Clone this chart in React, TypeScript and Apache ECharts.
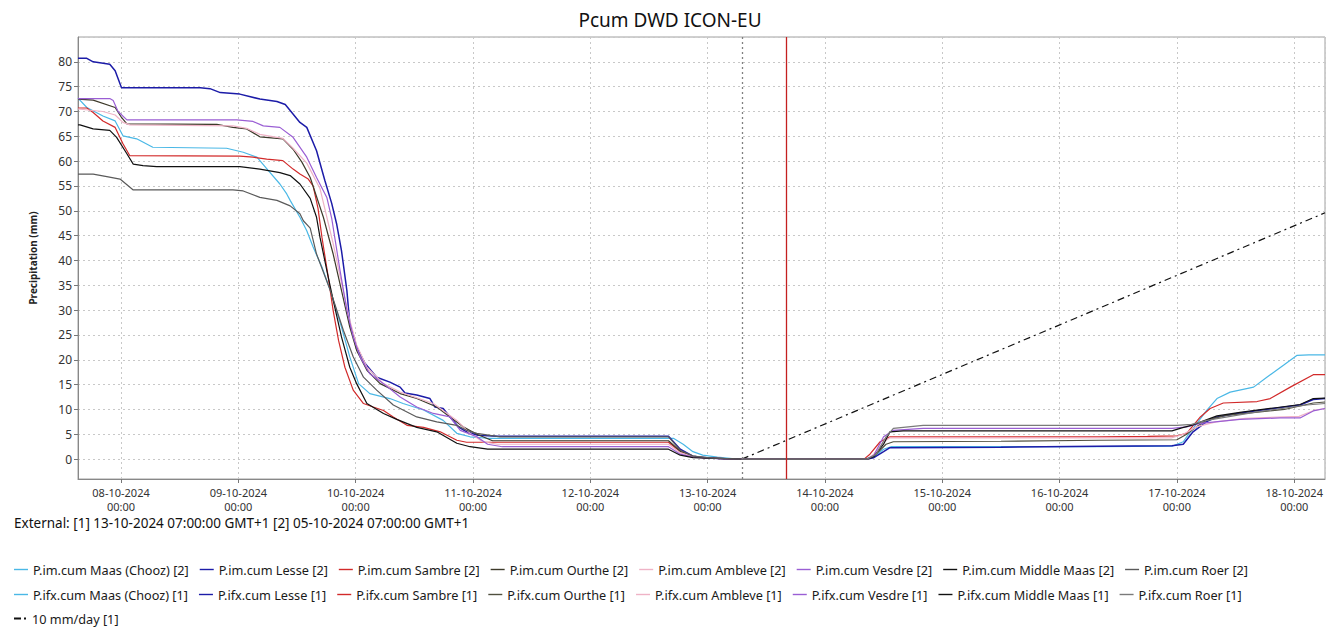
import React, { useEffect, useRef } from 'react';
import * as echarts from 'echarts';

// Time reference: hours counted from 08-10-2024 00:00 (local)
const BASE = new Date(2024, 9, 8, 0, 0, 0).getTime();
const HOUR = 3600000;
const AXIS_MIN_H = -8.8;
const AXIS_MAX_H = 246.3;
const FORECAST_T0_H = 127; // 13-10-2024 07:00
const NOW_H = 136; // 13-10-2024 16:00

const stations = ['Maas (Chooz)', 'Lesse', 'Sambre', 'Ourthe', 'Ambleve', 'Vesdre', 'Middle Maas', 'Roer'];
const imColors = ['#4ab8e6', '#1c1ca8', '#d22a2a', '#3d3a2a', '#efb3c6', '#9a5ed4', '#111111', '#5a5a5a'];
const ifxColors = ['#4ab8e6', '#1c1ca8', '#d22a2a', '#50503f', '#efb3c6', '#9a5ed4', '#111111', '#7a7a7a'];

// P.im.cum [2] : [hour, mm]
const imMaas = [[-8.8, 72.7], [-7, 70.8], [-3.7, 69.1], [-1.2, 68.1], [0.4, 65.1], [3.2, 64.5], [6.5, 62.8], [21.6, 62.6], [25, 61.8], [27.8, 60.8], [29.8, 58.5], [32.5, 55.4], [33.9, 53.4], [34.6, 52.1], [36.6, 48.7], [38, 46.0], [39.3, 42.7], [41.1, 38.7], [42.8, 34.0], [45.1, 26.6], [46.8, 20.6], [48.6, 15.2], [50.9, 13.2], [55, 12.2], [57.7, 11.2], [61.9, 9.9], [65.9, 7.8], [68.7, 5.2], [71.4, 4.5], [75, 4.2], [113, 4.2], [115, 3.0], [117, 1.5], [119, 0.8], [122, 0.4], [125, 0.1], [127, 0]];
const imLesse = [[-8.8, 80.7], [-7, 80.7], [-5.7, 80.0], [-2.3, 79.5], [-1.2, 78.2], [0.1, 74.8], [16.2, 74.8], [18.2, 74.6], [20.3, 73.8], [24.3, 73.5], [28.4, 72.5], [31.9, 72.0], [33.6, 71.4], [36.6, 67.8], [38, 66.8], [40, 62.1], [41.7, 56.1], [43.1, 51.5], [44.1, 47.4], [45.1, 42.0], [46.2, 34.0], [46.8, 27.3], [48.2, 22.6], [49.9, 19.3], [52.3, 16.5], [55, 15.5], [57.1, 14.5], [58.1, 13.3], [60.5, 12.9], [63.2, 12.2], [64.2, 10.5], [65.9, 10.2], [67.3, 8.5], [69, 6.5], [70.7, 5.5], [73, 4.8], [77, 4.6], [112, 4.6], [114.4, 2.0], [117, 0.6], [119.8, 0.3], [123.9, 0.05], [127, 0]];
const imSambre = [[-8.8, 70.7], [-7, 70.7], [-5.7, 69.8], [-3.7, 68.1], [-1.2, 66.8], [0.4, 63.5], [1.8, 61.1], [24.3, 61.0], [27, 60.8], [29.8, 60.4], [33.1, 60.1], [35.2, 58.4], [36.6, 57.4], [38.3, 56.4], [39.3, 55.0], [40.3, 50.5], [41.1, 44.7], [42.4, 36.6], [43.4, 29.9], [44.5, 23.9], [45.8, 18.5], [47.5, 13.9], [49.6, 11.2], [51.6, 10.5], [53.7, 9.8], [55.7, 8.5], [58.5, 6.8], [61.9, 6.4], [65.3, 5.5], [68.7, 3.8], [70.7, 3.4], [112, 3.4], [114.4, 1.5], [117, 0.5], [120, 0.2], [127, 0]];
const imOurthe = [[-8.8, 72.5], [-5.7, 72.3], [-1.2, 70.8], [0.1, 68.8], [1.2, 67.5], [19.6, 67.4], [22.9, 66.8], [25.7, 66.5], [28.4, 64.9], [33.1, 64.5], [35.2, 62.4], [37, 59.8], [38.7, 56.7], [41.4, 48.7], [43.4, 41.3], [45.1, 34.0], [46.8, 26.6], [48.2, 21.9], [50.3, 17.9], [53, 15.2], [57.1, 13.2], [60.5, 12.2], [64.6, 10.5], [67.3, 8.5], [70, 6.5], [72.8, 5.0], [76, 3.7], [112, 3.7], [114.4, 1.6], [117, 0.6], [120, 0.2], [127, 0]];
const imAmbleve = [[-8.8, 70.5], [-3.7, 70.0], [-1.2, 69.3], [0.4, 67.8], [1.8, 67.3], [22.9, 67.1], [25.7, 66.6], [28.4, 65.4], [33.1, 64.6], [35.2, 62.6], [38, 59.6], [40.7, 54.5], [42.4, 47.5], [43.4, 43.4], [45.1, 35.5], [46.8, 28.0], [48.2, 23.0], [50.3, 18.5], [53.7, 15.2], [57.1, 13.5], [63.9, 11.2], [68.7, 7.8], [71.4, 5.2], [74, 3.5], [77, 3.0], [112, 3.0], [114.4, 1.3], [117, 0.5], [121, 0.2], [127, 0]];
const imVesdre = [[-8.8, 72.6], [-2.3, 72.6], [-1.6, 72.2], [-0.6, 70.0], [1.2, 68.3], [23.7, 68.3], [27, 68.0], [29.1, 67.1], [32.5, 66.8], [35.2, 64.8], [38, 60.8], [40, 56.7], [42.1, 52.7], [43.1, 48.5], [44.8, 38.0], [46.2, 30.0], [47.5, 24.6], [48.9, 20.6], [50.9, 17.2], [53.7, 15.2], [57.1, 12.5], [60.5, 10.5], [63.9, 9.2], [67.3, 8.5], [69.4, 5.8], [72.8, 4.5], [75, 3.0], [78, 2.5], [112, 2.5], [114.4, 1.0], [117, 0.4], [121, 0.15], [127, 0]];
const imMiddleMaas = [[-8.8, 67.3], [-8.4, 67.3], [-5.7, 66.5], [-2.3, 66.2], [-0.9, 64.8], [1.2, 61.5], [2.5, 59.4], [4.5, 59.1], [7.3, 58.9], [24.3, 58.9], [28.4, 58.4], [32.5, 57.7], [34.6, 57.1], [36.6, 55.4], [38.7, 52.5], [40, 48.7], [40.7, 44.7], [42.1, 38.0], [43.4, 32.0], [45.1, 24.6], [46.8, 18.5], [48.2, 15.2], [50.3, 11.2], [53.7, 9.2], [56.4, 8.0], [60.5, 6.4], [64.6, 5.5], [68.7, 3.2], [71.4, 2.5], [75, 2.0], [112, 2.0], [114.4, 0.8], [117, 0.3], [127, 0]];
const imRoer = [[-8.8, 57.4], [-5.7, 57.4], [-2.9, 56.9], [-0.2, 56.4], [2.5, 54.2], [22.9, 54.2], [25, 54.0], [28.4, 52.7], [31.9, 52.1], [34.6, 51.0], [36.6, 49.4], [37.3, 48.0], [38.7, 46.5], [40, 41.3], [42.8, 34.0], [45.5, 25.9], [47.5, 20.6], [49.6, 16.5], [52.3, 13.9], [55.7, 10.9], [60.5, 8.5], [64.6, 7.5], [68.7, 6.8], [70.7, 5.8], [72.8, 5.2], [77.5, 4.5], [112, 4.5], [114.4, 1.8], [117, 0.6], [121, 0.2], [127, 0]];

// P.ifx.cum [1] : [hour, mm]
const ifxMaas = [[127, 0], [152, 0], [154, 0.5], [156, 2.0], [157.5, 2.5], [200, 2.5], [215, 2.6], [217.3, 3.5], [218, 4.5], [222.1, 9.8], [224.2, 12.2], [226.9, 13.5], [231.7, 14.5], [234.4, 16.5], [237.8, 18.9], [240.6, 20.9], [243, 21.0], [246.3, 21.0]];
const ifxLesse = [[127, 0], [152.6, 0], [154, 0.3], [156, 1.5], [157.3, 2.3], [180, 2.4], [200, 2.6], [215, 2.7], [217.3, 3.0], [219.3, 5.5], [222, 7.5], [224.2, 8.5], [228.9, 9.3], [235.8, 10.2], [241.2, 10.9], [243.9, 12.0], [246.3, 12.2]];
const ifxSambre = [[127, 0], [152, 0], [153.2, 1.0], [155.3, 3.5], [157.3, 4.5], [200, 4.5], [210, 4.6], [216, 4.7], [218, 5.2], [220.8, 8.5], [222.8, 10.2], [225.5, 11.3], [232.4, 11.6], [235.1, 12.2], [239.2, 14.5], [243.9, 17.0], [246.3, 17.0]];
const ifxOurthe = [[127, 0], [152.6, 0], [154.5, 1.0], [156.5, 3.0], [158, 3.5], [180, 3.6], [200, 3.8], [216, 3.9], [218, 5.0], [220, 6.5], [222, 7.8], [226, 8.8], [232, 9.4], [238, 10.0], [243.9, 11.3], [246.3, 11.5]];
const ifxAmbleve = [[127, 0], [152.6, 0], [154, 1.0], [156, 3.5], [157.3, 4.3], [215, 4.3], [217.3, 5.0], [220, 6.5], [224, 7.5], [230, 8.2], [238, 8.5], [241, 8.6], [244, 9.8], [246.3, 10.2]];
const ifxVesdre = [[127, 0], [152.6, 0], [154, 0.8], [156, 4.5], [158, 5.8], [164.1, 6.2], [215, 6.2], [218, 6.5], [220.8, 7.2], [228.9, 8.0], [237.1, 8.3], [241.2, 8.3], [243.9, 9.7], [246.3, 10.2]];
const ifxMiddleMaas = [[127, 0], [152.6, 0], [154, 0.5], [156, 3.0], [157.3, 5.5], [160, 5.7], [215, 5.7], [217, 6.3], [219.3, 6.9], [224.2, 8.7], [228.9, 9.4], [235.8, 10.3], [241.2, 11.0], [243.9, 12.2], [246.3, 12.3]];
const ifxRoer = [[127, 0], [152.6, 0], [154.5, 1.0], [156.5, 4.5], [158, 6.2], [164.1, 6.8], [216, 6.8], [219, 7.0], [222.1, 7.8], [232.4, 9.5], [242.6, 10.9], [246.3, 11.2]];

// 10 mm/day reference line [1]
const rate10 = [[127, 0], [246.3, 49.6]];

const imData = [imMaas, imLesse, imSambre, imOurthe, imAmbleve, imVesdre, imMiddleMaas, imRoer];
const ifxData = [ifxMaas, ifxLesse, ifxSambre, ifxOurthe, ifxAmbleve, ifxVesdre, ifxMiddleMaas, ifxRoer];

const yTickStep = 5;
const title = 'Pcum DWD ICON-EU';
const yName = 'Precipitation (mm)';
const externalText = 'External: [1] 13-10-2024 07:00:00 GMT+1 [2] 05-10-2024 07:00:00 GMT+1';
const rateName = '10 mm/day [1]';

const FONT = 'Noto Sans';

const toTime = (pts: number[][]) => pts.map(([h, v]) => [BASE + h * HOUR, v]);
const pad = (n: number) => (n < 10 ? '0' + n : '' + n);

export default function App() {
  const ref = useRef<HTMLDivElement>(null);

  useEffect(() => {
    if (!ref.current) return;
    const chart = echarts.init(ref.current, undefined, { renderer: 'svg' });

    const imNames = stations.map((s) => `P.im.cum ${s} [2]`);
    const ifxNames = stations.map((s) => `P.ifx.cum ${s} [1]`);

    const series: any[] = [];
    stations.forEach((_, i) => {
      series.push({
        name: imNames[i],
        type: 'line',
        data: toTime(imData[i]),
        symbol: 'none',
        showSymbol: false,
        lineStyle: { color: imColors[i], width: i === 1 ? 1.5 : 1.2 },
        itemStyle: { color: imColors[i] },
        z: 3,
      });
    });
    stations.forEach((_, i) => {
      series.push({
        name: ifxNames[i],
        type: 'line',
        data: toTime(ifxData[i]),
        symbol: 'none',
        showSymbol: false,
        lineStyle: { color: ifxColors[i], width: i === 1 ? 1.5 : 1.2 },
        itemStyle: { color: ifxColors[i] },
        z: 3,
      });
    });
    series.push({
      name: rateName,
      type: 'line',
      data: toTime(rate10),
      symbol: 'none',
      showSymbol: false,
      lineStyle: { color: '#111', width: 1.2, type: [7, 4, 2, 4] },
      itemStyle: { color: '#111' },
      z: 2,
      markLine: {
        silent: true,
        symbol: ['none', 'none'],
        label: { show: false },
        data: [
          { xAxis: BASE + FORECAST_T0_H * HOUR, lineStyle: { type: [2, 3], color: '#808080', width: 1.3 } },
          { xAxis: BASE + NOW_H * HOUR, lineStyle: { type: 'solid', color: '#c42020', width: 1.3 } },
        ],
      },
    });

    const legendText = { fontFamily: FONT, fontSize: 12.7, color: '#1a1a1a' };
    const legendCommon = {
      orient: 'horizontal',
      left: 14,
      itemWidth: 14,
      itemHeight: 1.4,
      itemGap: 11,
      padding: 0,
      selectedMode: false,
      icon: 'rect',
      textStyle: legendText,
    };

    chart.setOption({
      animation: false,
      backgroundColor: '#ffffff',
      textStyle: { fontFamily: FONT },
      title: {
        text: title,
        left: 'center',
        top: 5,
        textStyle: { fontFamily: FONT, fontSize: 19, fontWeight: 'normal', color: '#111' },
      },
      grid: {
        left: 78,
        top: 37,
        right: 15,
        bottom: 151,
        show: true,
        borderColor: '#a0a0a0',
        borderWidth: 1,
        containLabel: false,
      },
      xAxis: {
        type: 'time',
        min: BASE + AXIS_MIN_H * HOUR,
        max: BASE + AXIS_MAX_H * HOUR,
        minInterval: 24 * HOUR,
        maxInterval: 24 * HOUR,
        axisLine: { onZero: false, lineStyle: { color: '#888' } },
        axisTick: { show: true, length: 4, lineStyle: { color: '#777' } },
        splitLine: { show: true, lineStyle: { color: '#c8c8c8', type: [2, 3] } },
        axisLabel: {
          showMinLabel: false,
          showMaxLabel: false,
          hideOverlap: false,
          fontFamily: FONT,
          fontSize: 11,
          color: '#333',
          lineHeight: 14,
          margin: 6,
          formatter: (v: number) => {
            const d = new Date(v);
            return `${pad(d.getDate())}-${pad(d.getMonth() + 1)}-${d.getFullYear()}\n${pad(d.getHours())}:${pad(d.getMinutes())}`;
          },
        },
      },
      yAxis: {
        type: 'value',
        min: -4,
        max: 85,
        splitNumber: 18,
        minInterval: yTickStep,
        maxInterval: yTickStep,
        name: yName,
        nameLocation: 'middle',
        nameGap: 40,
        nameRotate: 90,
        nameTextStyle: { fontFamily: FONT, fontSize: 10, fontWeight: 'bold', color: '#222' },
        axisLine: { show: true, onZero: false, lineStyle: { color: '#888' } },
        axisTick: { show: true, length: 4, lineStyle: { color: '#777' } },
        splitLine: { show: true, lineStyle: { color: '#c8c8c8', type: [2, 3] } },
        axisLabel: {
          showMinLabel: false,
          showMaxLabel: false,
          fontFamily: FONT,
          fontSize: 12,
          color: '#333',
          margin: 6,
        },
      },
      legend: [
        { ...legendCommon, top: 563, data: imNames },
        { ...legendCommon, top: 588, data: ifxNames },
        {
          ...legendCommon,
          top: 612,
          itemHeight: 2,
          icon: 'path://M0,0H7V2H0Z M10,0H12V2H10Z',
          data: [rateName],
        },
      ],
      graphic: [
        {
          type: 'text',
          left: 14,
          top: 516,
          style: { text: externalText, fontFamily: FONT, fontSize: 13.5, fill: '#111' },
        },
      ],
      series,
    });

    return () => chart.dispose();
  }, []);

  return (
    <div
      ref={ref}
      style={{ position: 'absolute', left: 0, top: 0, width: 1340, height: 630 }}
    />
  );
}
